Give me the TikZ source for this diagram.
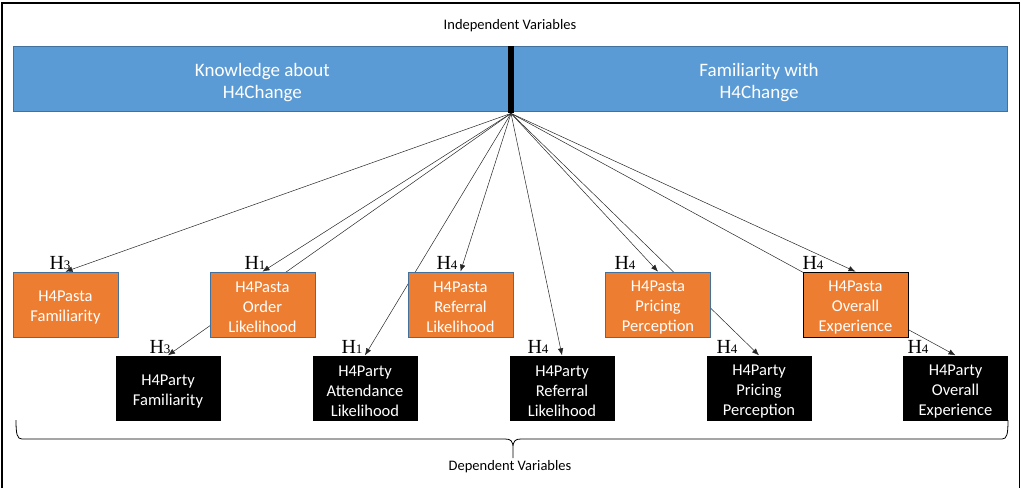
\documentclass[tikz,border=0pt]{standalone}
\usepackage{fontspec}
\setmainfont{Carlito}
\newfontfamily\hypfont{Liberation Serif}
\usetikzlibrary{arrows.meta}

\definecolor{barblue}{HTML}{5B9BD5}
\definecolor{baredge}{HTML}{41719C}
\definecolor{pastaorange}{HTML}{ED7D31}

\newcommand{\hyp}[1]{{\hypfont\fontsize{20}{20}\selectfont H\fontsize{13}{13}\selectfont #1}}
\newcommand{\barstrut}{\rule{0pt}{20.5pt}}
\newcommand{\boxstrut}{\rule{0pt}{17pt}}

\tikzset{
  barbox/.style={fill=barblue, draw=baredge, line width=0.8pt, minimum height=65pt,
                 inner sep=0pt, align=center, text=white, font=\fontsize{19}{22.5}\selectfont},
  varbox/.style={minimum width=105pt, minimum height=65pt, inner sep=0pt, align=center,
                 text=white, font=\fontsize{16.5}{20}\selectfont},
  pastabox/.style={varbox, fill=pastaorange, draw=baredge, line width=0.8pt},
  partybox/.style={varbox, fill=black},
  hyplabel/.style={anchor=base, inner sep=0pt},
  link/.style={draw=black!85, line width=0.5pt, -{Latex[length=7pt,width=5.5pt]}},
  caption/.style={font=\fontsize{14.5}{16}\selectfont}
}

\begin{document}
\begin{tikzpicture}[x=1pt,y=-1pt]
\useasboundingbox (0,0) rectangle (1021,488);
\draw[line width=1.5pt] (2,488) -- (2,3) -- (1019.5,3) -- (1019.5,488);

\node[caption] (indep) at (510,26) {Independent Variables};
\node[barbox, minimum width=498pt, anchor=north west] (know) at (13,46) {\barstrut Knowledge about\\H4Change};
\node[barbox, minimum width=497pt, anchor=north east] (famil) at (1008,46) {\barstrut Familiarity with\\H4Change};
\node[fill=black, minimum width=6pt, minimum height=67pt, inner sep=0pt, anchor=north] (divider) at (511,46) {};

% party row first, its links pass behind the pasta row
\node[partybox] (partyfam) at (168,388) {\boxstrut H4Party\\Familiarity};
\node[partybox] (partyatt) at (365,388) {\boxstrut H4Party\\Attendance\\Likelihood};
\node[partybox] (partyref) at (562,388) {\boxstrut H4Party\\Referral\\Likelihood};
\node[partybox] (partypri) at (759,388) {\boxstrut H4Party\\Pricing\\Perception};
\node[partybox] (partyexp) at (955.5,388) {\boxstrut H4Party\\Overall\\Experience};
\foreach \t in {partyfam,partyatt,partyref,partypri,partyexp}
  \draw[link] (divider.south) -- (\t.north);

\node[pastabox] (pastafam) at (65.5,304.5) {\boxstrut H4Pasta\\Familiarity};
\node[pastabox] (pastaord) at (262.5,304.5) {\boxstrut H4Pasta\\Order\\Likelihood};
\node[pastabox] (pastaref) at (460.5,304.5) {\boxstrut H4Pasta\\Referral\\Likelihood};
\node[pastabox] (pastapri) at (658,304.5) {\boxstrut H4Pasta\\Pricing\\Perception};
\node[pastabox, draw=black] (pastaexp) at (855.5,304.5) {\boxstrut H4Pasta\\Overall\\Experience};
\foreach \t in {pastafam,pastaord,pastaref,pastapri,pastaexp}
  \draw[link] (divider.south) -- (\t.north);

\node[hyplabel] (hpastafam) at (60,269) {\hyp{3}};
\node[hyplabel] (hpastaord) at (255,269) {\hyp{1}};
\node[hyplabel] (hpastaref) at (447,269) {\hyp{4}};
\node[hyplabel] (hpastapri) at (625,269) {\hyp{4}};
\node[hyplabel] (hpastaexp) at (813,269) {\hyp{4}};
\node[hyplabel] (hpartyfam) at (160,353) {\hyp{3}};
\node[hyplabel] (hpartyatt) at (352,353) {\hyp{1}};
\node[hyplabel] (hpartyref) at (538,353) {\hyp{4}};
\node[hyplabel] (hpartypri) at (727,353) {\hyp{4}};
\node[hyplabel] (hpartyexp) at (918,353) {\hyp{4}};

% brace under the dependent variables
\draw[line width=0.8pt] (16,420) .. controls (16,434) and (17,439) .. (22,439) -- (505,439)
  .. controls (511,439) and (513,441) .. (513,448) -- (513,458)
  (513,448) .. controls (513,441) and (515,439) .. (521,439) -- (1002,439)
  .. controls (1007,439) and (1008,434) .. (1008,420);
\node[caption] (dep) at (510,467) {Dependent Variables};
\end{tikzpicture}
\end{document}
